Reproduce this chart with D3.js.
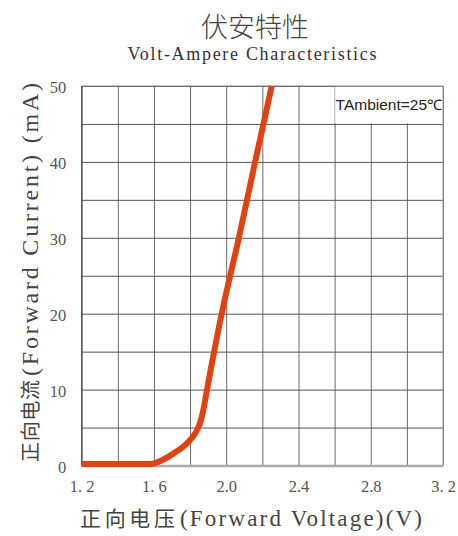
<!DOCTYPE html>
<html><head><meta charset="utf-8">
<script src="https://cdn.jsdelivr.net/npm/d3@7"></script>
<style>
html,body{margin:0;padding:0;background:#fff;}
svg{display:block;}
</style></head>
<body>
<svg id="chart" width="458" height="536"></svg>
<script>
// ---- data ----
const voltage = [1.2, 1.58, 1.65, 1.71, 1.79, 1.83, 1.855, 1.874, 1.893, 1.914, 1.975, 2.07, 2.16, 2.252];
const current = [0.2, 0.2, 0.75, 1.6, 3.1, 4.3, 5.6, 7.4, 9.9, 12.6, 20, 30, 40, 50];
const xTickValues = [1.2, 1.6, 2.0, 2.4, 2.8, 3.2];
const xTickLabels = ["1. 2", "1. 6", "2.0", "2.4", "2.8", "3. 2"];
const yTickValues = [0, 10, 20, 30, 40, 50];
const yTickLabels = ["0", "10", "20", "30", "40", "50"];
const xGridValues = [1.2, 1.4, 1.6, 1.8, 2.0, 2.2, 2.4, 2.6, 2.8, 3.0, 3.2];
const yGridValues = [0, 5, 10, 15, 20, 25, 30, 35, 40, 45, 50];
const titleText = "伏安特性";
const subtitleText = "Volt-Ampere Characteristics";
const xTitleCJK = "正向电压";
const xTitleLatin = "(Forward  Voltage)(V)";
const yTitleCJK = "正向电流";
const yTitleLatin = "(Forward  Current) (mA)";
const noteText = "TAmbient=25℃";

// ---- layout ----
const L = 81.7, R = 443, T = 86, B = 465.5;
const serif = "'Liberation Serif','Times New Roman',serif";
const cjk = "'Noto Sans CJK SC',sans-serif";

const svg = d3.select("#chart");
const x = d3.scaleLinear().domain([1.2, 3.2]).range([L, R]);
const y = d3.scaleLinear().domain([0, 50]).range([B, T]);

// grid
const gx = svg.append("g").attr("transform", `translate(0,${B})`)
  .call(d3.axisBottom(x).tickValues(xGridValues).tickSize(-(B - T)).tickFormat(""));
gx.select(".domain").remove();
gx.selectAll("line").attr("stroke", "#6a6a6a").attr("stroke-width", 1);

const gy = svg.append("g").attr("transform", `translate(${L},0)`)
  .call(d3.axisLeft(y).tickValues(yGridValues).tickSize(-(R - L)).tickFormat(""));
gy.select(".domain").remove();
gy.selectAll("line").attr("stroke", "#555").attr("stroke-width", 1);

// annotation box (covers grid)
svg.append("rect")
  .attr("x", x(2.6) + 0.6).attr("y", y(50) + 0.6)
  .attr("width", x(3.2) - x(2.6) - 1.2).attr("height", y(45) - y(50) - 1.2)
  .attr("fill", "#fff");
svg.append("text")
  .attr("x", x(2.6) + 1).attr("y", y(47.5) + 5)
  .attr("font-family", "'Liberation Sans',Arial,sans-serif")
  .attr("font-size", 14.5).attr("fill", "#222")
  .attr("textLength", x(3.2) - x(2.6) - 2).attr("lengthAdjust", "spacingAndGlyphs")
  .text(noteText);

// borders
svg.append("line").attr("x1", L).attr("x2", R).attr("y1", T).attr("y2", T).attr("stroke", "#888");
svg.append("line").attr("x1", R).attr("x2", R).attr("y1", T).attr("y2", B).attr("stroke", "#999");
svg.append("line").attr("x1", L).attr("x2", L).attr("y1", T).attr("y2", B).attr("stroke", "#444");
svg.append("line").attr("x1", L).attr("x2", R).attr("y1", B + 0.5).attr("y2", B + 0.5)
  .attr("stroke", "#aaa").attr("stroke-width", 2.5);

// curve
const pts = voltage.map((v, i) => [v, current[i]]);
svg.append("path").datum(pts)
  .attr("d", d3.line().x(d => x(d[0])).y(d => y(d[1])).curve(d3.curveMonotoneX))
  .attr("fill", "none").attr("stroke", "#df4311").attr("stroke-width", 6)
  .attr("stroke-linejoin", "round");

// x tick labels
const ax = svg.append("g").attr("transform", `translate(0,${B})`)
  .call(d3.axisBottom(x).tickValues(xTickValues).tickSize(0).tickPadding(0)
    .tickFormat((d, i) => xTickLabels[i]));
ax.select(".domain").remove();
ax.selectAll("text").attr("y", 26.5).attr("dy", null)
  .attr("font-family", serif).attr("font-size", 16.5).attr("fill", "#555");

// y tick labels
const ay = svg.append("g").attr("transform", `translate(${L},0)`)
  .call(d3.axisLeft(y).tickValues(yTickValues).tickSize(0).tickPadding(15.5)
    .tickFormat((d, i) => yTickLabels[i]));
ay.select(".domain").remove();
ay.selectAll("text").attr("dy", "0.42em")
  .attr("font-family", serif).attr("font-size", 16.5).attr("fill", "#555");

// titles
svg.append("text").attr("x", 255).attr("y", 37).attr("text-anchor", "middle")
  .attr("font-family", cjk).attr("font-size", 27).attr("font-weight", 300)
  .attr("fill", "#444").text(titleText);
svg.append("text").attr("x", 252).attr("y", 60).attr("text-anchor", "middle")
  .attr("font-family", serif).attr("font-size", 18).attr("fill", "#333")
  .attr("textLength", 249).attr("lengthAdjust", "spacing")
  .text(subtitleText);

// x axis title
const xt = svg.append("text").attr("y", 526).attr("fill", "#444");
xt.append("tspan").attr("x", 80).attr("font-family", cjk).attr("font-size", 21)
  .attr("textLength", 95).attr("lengthAdjust", "spacing").text(xTitleCJK);
xt.append("tspan").attr("x", 180).attr("font-family", serif).attr("font-size", 23)
  .attr("textLength", 242).attr("lengthAdjust", "spacing").text(xTitleLatin);

// y axis title (rotated)
const yt = svg.append("text").attr("transform", "rotate(-90)").attr("y", 38).attr("fill", "#444");
yt.append("tspan").attr("x", -462).attr("font-family", cjk).attr("font-size", 20)
  .attr("textLength", 82).attr("lengthAdjust", "spacing").text(yTitleCJK);
yt.append("tspan").attr("x", -376).attr("font-family", serif).attr("font-size", 24)
  .attr("textLength", 293).attr("lengthAdjust", "spacing").text(yTitleLatin);
</script>
</body></html>
